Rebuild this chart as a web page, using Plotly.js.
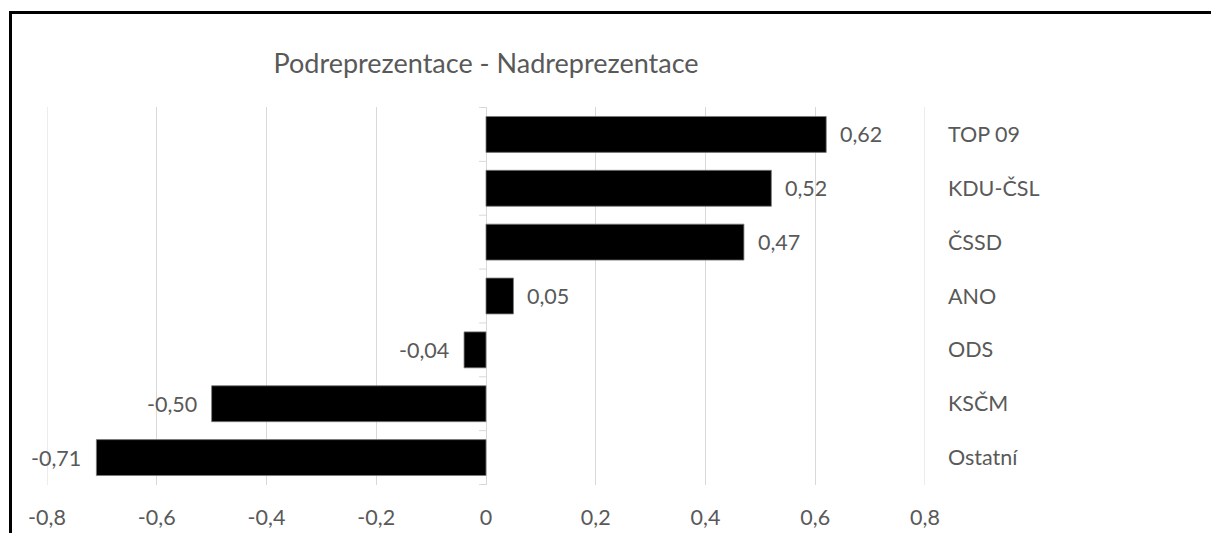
<!DOCTYPE html>
<html>
<head>
<meta charset="utf-8">
<script src="https://cdn.plot.ly/plotly-3.0.1.min.js"></script>
<style>
  html, body { margin: 0; padding: 0; background: #fff; }
  #wrap { position: relative; width: 1211px; height: 533px; overflow: hidden; }
  #frame { position: absolute; left: 9px; top: 11px; width: 1300px; height: 600px;
           border-top: 3px solid #000; border-left: 3px solid #000; box-sizing: border-box; pointer-events: none; }
  #chart { position: absolute; left: 0; top: 0; width: 1211px; height: 533px; }
</style>
</head>
<body>
<div id="wrap">
  <div id="chart"></div>
  <div id="frame"></div>
</div>
<script>
// Data (top to bottom)
const parties = ["TOP 09", "KDU-ČSL", "ČSSD", "ANO", "ODS", "KSČM", "Ostatní"];
const values = [0.62, 0.52, 0.47, 0.05, -0.04, -0.50, -0.71];
const tickValues = [-0.8, -0.6, -0.4, -0.2, 0, 0.2, 0.4, 0.6, 0.8];
const tickLabels = ["-0,8", "-0,6", "-0,4", "-0,2", "0", "0,2", "0,4", "0,6", "0,8"];
const chartTitle = "Podreprezentace - Nadreprezentace";

const FONT = "Lato, 'Open Sans', sans-serif";
const TXT = "#595959";
const FS = 21.5;

const fmt = v => v.toFixed(2).replace(".", ",");

const trace = {
  type: "bar",
  orientation: "h",
  x: values,
  y: parties,
  marker: { color: "#000000", line: { color: "#7a7a7a", width: 0.8 } },
  hoverinfo: "x+y"
};

const annotations = values.map((v, i) => ({
  x: v, y: parties[i], xref: "x", yref: "y",
  text: fmt(v), showarrow: false,
  xanchor: v >= 0 ? "left" : "right",
  xshift: v >= 0 ? 12 : -13,
  font: { family: FONT, size: FS, color: TXT }
}));

const shapes = [];
// small category ticks at the zero axis
for (let i = 0; i <= parties.length; i++) {
  shapes.push({
    type: "line", xref: "x", yref: "y",
    xsizemode: "pixel", xanchor: 0, x0: -7, x1: 0,
    y0: i - 0.5, y1: i - 0.5,
    line: { color: "#d9d9d9", width: 1 }
  });
}
// gridlines at the range edges (Plotly hides those)
[tickValues[0], tickValues[tickValues.length - 1]].forEach(t => {
  shapes.push({
    type: "line", xref: "x", yref: "paper",
    x0: t, x1: t, y0: 0, y1: 1,
    layer: "below",
    line: { color: "#d9d9d9", width: 1 }
  });
});

const layout = {
  width: 1211, height: 533,
  margin: { l: 47, r: 286, t: 107, b: 48 },
  paper_bgcolor: "rgba(0,0,0,0)",
  plot_bgcolor: "#ffffff",
  showlegend: false,
  bargap: 0.333,
  title: {
    text: chartTitle,
    x: 0.5, xref: "paper", xanchor: "center",
    y: 1 - 64 / 533, yref: "container", yanchor: "middle",
    font: { family: FONT, size: 27, color: TXT }
  },
  xaxis: {
    range: [-0.8, 0.8],
    tickvals: tickValues, ticktext: tickLabels,
    showgrid: true, gridcolor: "#d9d9d9", gridwidth: 1,
    zeroline: true, zerolinecolor: "#d9d9d9", zerolinewidth: 1,
    showline: false, ticks: "",
    ticklabelstandoff: 17,
    tickfont: { family: FONT, size: FS, color: TXT },
    fixedrange: true
  },
  yaxis: {
    type: "category",
    autorange: "reversed",
    side: "right",
    showgrid: false, zeroline: false, showline: false, ticks: "",
    ticklabelstandoff: 22,
    tickfont: { family: FONT, size: FS, color: TXT },
    fixedrange: true
  },
  annotations: annotations,
  shapes: shapes,
  font: { family: FONT, color: TXT }
};

Plotly.newPlot("chart", [trace], layout, { displayModeBar: false, staticPlot: true });
</script>
</body>
</html>
